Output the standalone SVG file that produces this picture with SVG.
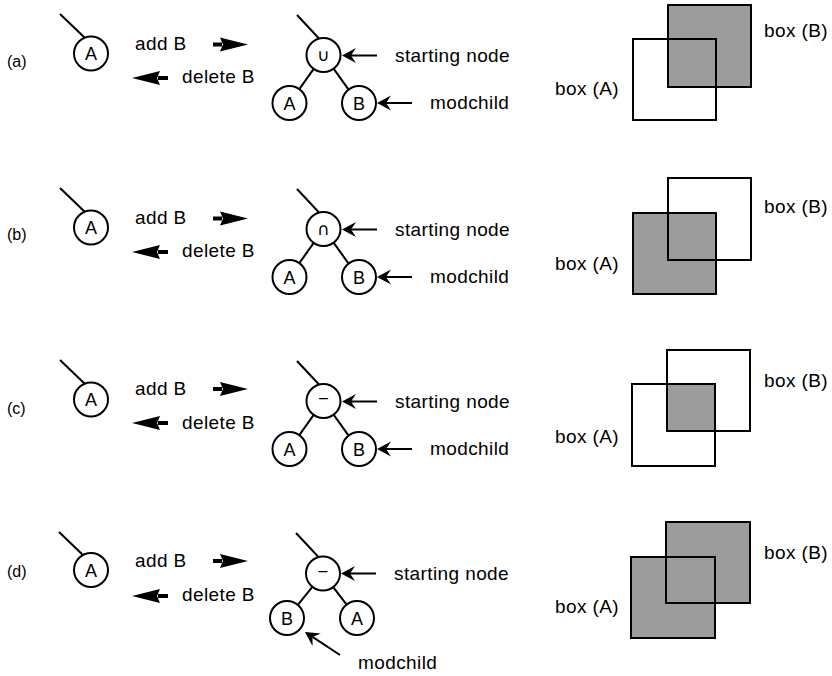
<svg xmlns="http://www.w3.org/2000/svg" width="832" height="676" viewBox="0 0 832 676">
<style>
.t{font-family:"Liberation Sans",Arial,sans-serif;font-size:19px;letter-spacing:0.4px;fill:#000}
.lab{font-family:"Liberation Sans",Arial,sans-serif;font-size:16px;fill:#000}
.cl{font-family:"Liberation Sans",Arial,sans-serif;font-size:18px;fill:#000;text-anchor:middle}
.sym{font-family:"DejaVu Sans",sans-serif;font-size:17px;fill:#000;text-anchor:middle}
.c{fill:#fff;stroke:#000;stroke-width:2}
.ln{stroke:#000;stroke-width:2;fill:none}
.big{stroke:#000;stroke-width:4;fill:none;marker-end:url(#bigHead)}
.ptr{stroke:#000;stroke-width:2;fill:none;marker-end:url(#ptrHead)}
.box{fill:none;stroke:#000;stroke-width:2}
.sh{fill:#9c9c9c;stroke:none}
</style>
<defs>
<marker id="bigHead" markerUnits="userSpaceOnUse" viewBox="-30 -9 32 18" refX="-26" refY="0" markerWidth="32" markerHeight="18" orient="auto">
<path d="M0,0 L-28,-7 L-25,0 L-28,7 Z" fill="#000"/>
</marker>
<marker id="ptrHead" markerUnits="userSpaceOnUse" viewBox="-15 -9 17 18" refX="-9" refY="0" markerWidth="17" markerHeight="18" orient="auto">
<path d="M0,0 L-14,-7.5 L-9,0 L-14,7.5 Z" fill="#000"/>
</marker>
</defs>

<!-- Panel (a) -->
<g id="panel-a">
  <g id="connectors-a">
    <line class="ln" x1="60" y1="14" x2="85" y2="38"/>
    <line class="big" x1="213" y1="44.5" x2="222" y2="44.5"/>
    <line class="big" x1="168" y1="78" x2="158" y2="78"/>
    <line class="ln" x1="297" y1="15" x2="319" y2="38.5"/>
    <line class="ln" x1="313.7" y1="68.9" x2="299.3" y2="89.1"/>
    <line class="ln" x1="333.6" y1="68.7" x2="348.4" y2="89.3"/>
    <line class="ptr" x1="377" y1="55.5" x2="351" y2="55.5"/>
    <line class="ptr" x1="412" y1="103" x2="386" y2="103"/>
  </g>
  <text id="label-a" class="lab" x="7" y="67">(a)</text>
  <g id="a-leftA"><circle class="c" cx="91" cy="53.5" r="17"/><text class="cl" x="91" y="60">A</text></g>
  <text id="a-add" class="t" x="135" y="50">add B</text>
  <text id="a-del" class="t" x="182" y="83">delete B</text>
  <g id="a-root"><circle class="c" cx="323.5" cy="55" r="17"/><text class="sym" x="323.5" y="61">∪</text></g>
  <g id="a-childA"><circle class="c" cx="289.5" cy="103" r="17"/><text class="cl" x="289.5" y="109.5">A</text></g>
  <g id="a-childB"><circle class="c" cx="359" cy="103" r="17"/><text class="cl" x="359" y="109.5">B</text></g>
  <text id="a-start" class="t" x="395" y="62">starting node</text>
  <text id="a-mod" class="t" x="430" y="109">modchild</text>
  <g id="a-boxes">
    <rect class="sh" x="668" y="5" width="83" height="82"/>
    <rect class="box" x="668" y="5" width="83" height="82"/>
    <rect class="box" x="633" y="39" width="83" height="81"/>
    <text class="t" x="764" y="37">box (B)</text>
    <text class="t" x="555" y="95">box (A)</text>
  </g>
</g>

<!-- Panel (b) -->
<g id="panel-b" transform="translate(0,174)">
  <g id="connectors-b">
    <line class="ln" x1="60" y1="14" x2="85" y2="38"/>
    <line class="big" x1="213" y1="44.5" x2="222" y2="44.5"/>
    <line class="big" x1="168" y1="78" x2="158" y2="78"/>
    <line class="ln" x1="297" y1="15" x2="319" y2="38.5"/>
    <line class="ln" x1="313.7" y1="68.9" x2="299.3" y2="89.1"/>
    <line class="ln" x1="333.6" y1="68.7" x2="348.4" y2="89.3"/>
    <line class="ptr" x1="377" y1="55.5" x2="351" y2="55.5"/>
    <line class="ptr" x1="412" y1="103" x2="386" y2="103"/>
  </g>
  <text id="label-b" class="lab" x="7" y="66">(b)</text>
  <g id="b-leftA"><circle class="c" cx="91" cy="53.5" r="17"/><text class="cl" x="91" y="60">A</text></g>
  <text id="b-add" class="t" x="135" y="50">add B</text>
  <text id="b-del" class="t" x="182" y="83">delete B</text>
  <g id="b-root"><circle class="c" cx="323.5" cy="55" r="17"/><text class="sym" x="323.5" y="61">∩</text></g>
  <g id="b-childA"><circle class="c" cx="289.5" cy="103" r="17"/><text class="cl" x="289.5" y="109.5">A</text></g>
  <g id="b-childB"><circle class="c" cx="359" cy="103" r="17"/><text class="cl" x="359" y="109.5">B</text></g>
  <text id="b-start" class="t" x="395" y="62">starting node</text>
  <text id="b-mod" class="t" x="430" y="109">modchild</text>
  <g id="b-boxes">
    <rect class="sh" x="633" y="39" width="83" height="81"/>
    <rect class="box" x="633" y="39" width="83" height="81"/>
    <rect class="box" x="668" y="4" width="83" height="82"/>
    <text class="t" x="764" y="39">box (B)</text>
    <text class="t" x="555" y="96">box (A)</text>
  </g>
</g>

<!-- Panel (c) -->
<g id="panel-c" transform="translate(0,346)">
  <g id="connectors-c">
    <line class="ln" x1="60" y1="14" x2="85" y2="38"/>
    <line class="big" x1="213" y1="43" x2="222" y2="43"/>
    <line class="big" x1="168" y1="77" x2="158" y2="77"/>
    <line class="ln" x1="297" y1="15" x2="319" y2="38.5"/>
    <line class="ln" x1="313.7" y1="68.9" x2="299.3" y2="89.1"/>
    <line class="ln" x1="333.6" y1="68.7" x2="348.4" y2="89.3"/>
    <line class="ptr" x1="377" y1="55.5" x2="351" y2="55.5"/>
    <line class="ptr" x1="412" y1="103" x2="386" y2="103"/>
  </g>
  <text id="label-c" class="lab" x="7" y="68">(c)</text>
  <g id="c-leftA"><circle class="c" cx="91" cy="53.5" r="17"/><text class="cl" x="91" y="60">A</text></g>
  <text id="c-add" class="t" x="135" y="48.5">add B</text>
  <text id="c-del" class="t" x="182" y="83">delete B</text>
  <g id="c-root"><circle class="c" cx="323.5" cy="55" r="17"/><text class="lab" x="323.5" y="57" text-anchor="middle">–</text></g>
  <g id="c-childA"><circle class="c" cx="289.5" cy="103" r="17"/><text class="cl" x="289.5" y="109.5">A</text></g>
  <g id="c-childB"><circle class="c" cx="359" cy="103" r="17"/><text class="cl" x="359" y="109.5">B</text></g>
  <text id="c-start" class="t" x="395" y="61.5">starting node</text>
  <text id="c-mod" class="t" x="430" y="108.5">modchild</text>
  <g id="c-boxes">
    <rect class="sh" x="667" y="38" width="48" height="47"/>
    <rect class="box" x="667" y="4" width="83" height="81"/>
    <rect class="box" x="632" y="38" width="83" height="82"/>
    <text class="t" x="764" y="41">box (B)</text>
    <text class="t" x="555" y="97">box (A)</text>
  </g>
</g>

<!-- Panel (d) -->
<g id="panel-d">
  <g id="connectors-d">
    <line class="ln" x1="59" y1="532" x2="84" y2="556"/>
    <line class="big" x1="213" y1="561" x2="222" y2="561"/>
    <line class="big" x1="168" y1="596" x2="158" y2="596"/>
    <line class="ln" x1="296" y1="533" x2="318" y2="556.5"/>
    <line class="ln" x1="312.2" y1="587.2" x2="297.8" y2="604.8"/>
    <line class="ln" x1="333.4" y1="587.4" x2="346.6" y2="604.6"/>
    <line class="ptr" x1="376" y1="573.5" x2="350" y2="573.5"/>
    <line class="ptr" x1="340" y1="655" x2="312.5" y2="636.9"/>
  </g>
  <text id="label-d" class="lab" x="7" y="577">(d)</text>
  <g id="d-leftA"><circle class="c" cx="91" cy="570" r="17"/><text class="cl" x="91" y="576.5">A</text></g>
  <text id="d-add" class="t" x="135" y="567">add B</text>
  <text id="d-del" class="t" x="182" y="601">delete B</text>
  <g id="d-root"><circle class="c" cx="323" cy="573.5" r="17"/><text class="lab" x="323" y="576" text-anchor="middle">–</text></g>
  <g id="d-childB"><circle class="c" cx="287" cy="618" r="17"/><text class="cl" x="287" y="624.5">B</text></g>
  <g id="d-childA"><circle class="c" cx="357" cy="618" r="17"/><text class="cl" x="357" y="624.5">A</text></g>
  <text id="d-start" class="t" x="394" y="580">starting node</text>
  <text id="d-mod" class="t" x="358" y="669">modchild</text>
  <g id="d-boxes">
    <rect class="sh" x="631" y="557" width="84" height="81"/>
    <rect class="sh" x="666" y="522" width="84" height="81"/>
    <rect class="box" x="666" y="522" width="84" height="81"/>
    <rect class="box" x="631" y="557" width="84" height="81"/>
    <text class="t" x="764" y="559">box (B)</text>
    <text class="t" x="555" y="613">box (A)</text>
  </g>
</g>
</svg>
